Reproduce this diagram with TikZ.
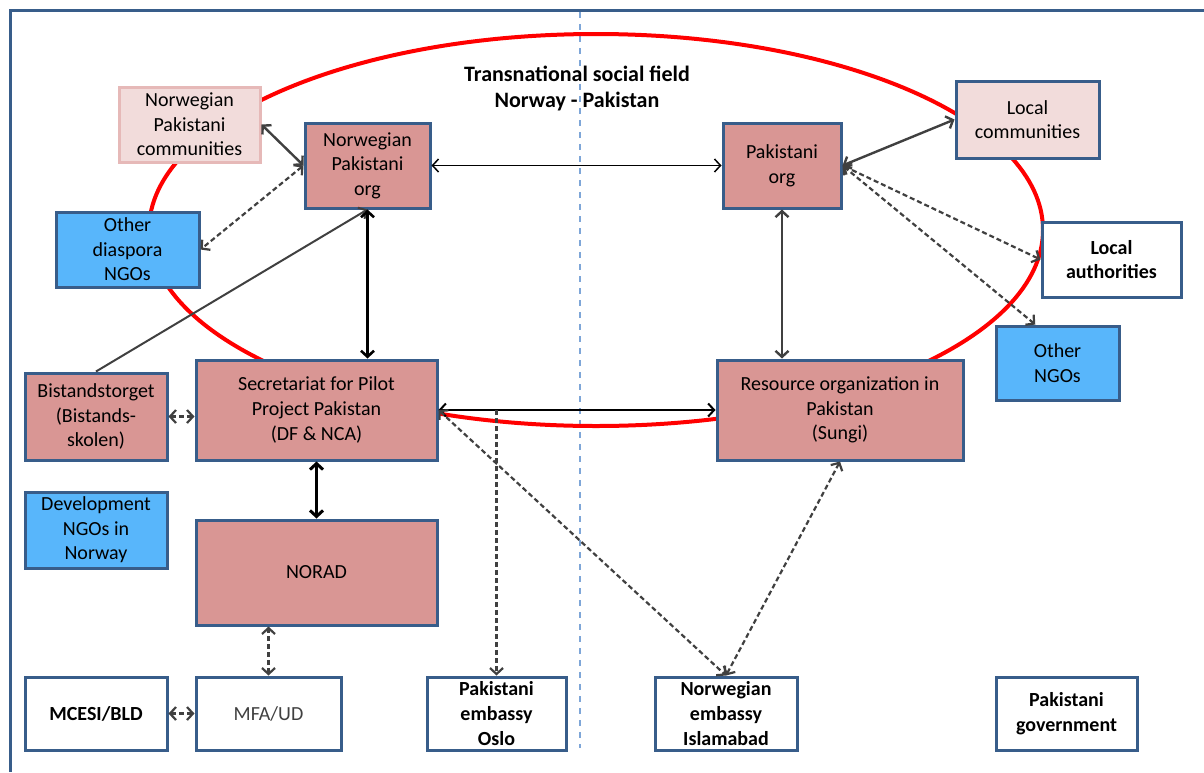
\documentclass[tikz,border=0pt]{standalone}
\usepackage{fontspec}
\setmainfont{Carlito}
\usetikzlibrary{arrows.meta}

\definecolor{boxblue}{HTML}{385D8A}
\definecolor{pinkfill}{HTML}{D99694}
\definecolor{palepink}{HTML}{F2DCDB}
\definecolor{palepinkline}{HTML}{E6B9B8}
\definecolor{skyfill}{HTML}{58B6FB}
\definecolor{linkgray}{HTML}{404040}
\definecolor{splitblue}{HTML}{7EA6D8}

\begin{document}
\begin{tikzpicture}[x=0.5pt,y=-0.5pt,
    box/.style={draw=boxblue,line width=1.5pt,align=center,inner sep=1pt,
      font=\fontsize{10}{12.3}\selectfont},
    org/.style={box,fill=pinkfill},
    ngo/.style={box,fill=skyfill},
    local/.style={box,fill=palepink},
    gov/.style={box,fill=white,font=\fontsize{10}{12.3}\selectfont\bfseries},
    tip/.tip={Straight Barb[length=3pt,width=6.5pt]},
    link/.style={tip-tip,line width=1.2pt,draw=linkgray},
    dlink/.style={link,line width=1.1pt,dash pattern=on 2.5pt off 1.5pt}]
  \useasboundingbox (0,0) rectangle (1204,772);

  % frame, border between the two countries, social field
  \draw[boxblue,line width=1.5pt] (1204,10) -- (10,10) -- (10,772);
  \draw[splitblue,line width=1pt,dashed] (580,12) -- (580,748);
  \draw[red,line width=2pt] (596,230) ellipse [x radius=223.5pt, y radius=98pt];

  \node[font=\fontsize{11}{13}\selectfont\bfseries,align=center] (field) at (577,88)
    {Transnational social field\\Norway - Pakistan};

  % Norway side
  \node[box,draw=palepinkline,fill=palepink,minimum width=70.5pt,minimum height=37.5pt]
    (npcomm) at (189.5,124.5) {Norwegian\\Pakistani\\communities};
  \node[org,minimum width=62.5pt,minimum height=42.5pt] (nporg) at (367.5,165.5)
    {Norwegian\\Pakistani\\org};
  \node[ngo,minimum width=71.5pt,minimum height=37.5pt] (diaspora) at (127.5,249.5)
    {Other\\diaspora\\NGOs};
  \node[org,minimum width=71pt,minimum height=43.5pt] (bistand) at (96,416.5)
    {Bistandstorget\\(Bistands-\\skolen)};
  \node[org,minimum width=120.5pt,minimum height=50pt] (secretariat) at (316.5,410)
    {Secretariat for Pilot\\Project Pakistan\\(DF \& NCA)};
  \node[ngo,minimum width=71pt,minimum height=38pt] (devngo) at (96,530)
    {Development\\NGOs in\\Norway};
  \node[org,minimum width=120.5pt,minimum height=52.5pt] (norad) at (316.5,572.5) {NORAD};
  \node[gov,minimum width=71pt,minimum height=36.5pt] (mcesi) at (96,713.5) {MCESI/BLD};
  \node[box,fill=white,text=linkgray,minimum width=72.5pt,minimum height=36.5pt]
    (mfa) at (268.5,713.5) {MFA/UD};
  \node[gov,minimum width=69.5pt,minimum height=36.5pt] (pkemb) at (496.5,713.5)
    {Pakistani\\embassy\\Oslo};

  % Pakistan side
  \node[org,minimum width=59pt,minimum height=42.5pt] (pkorg) at (782,165.5)
    {Pakistani\\org};
  \node[local,minimum width=71.5pt,minimum height=38.5pt] (localcomm) at (1027.5,119.5)
    {Local\\communities};
  \node[gov,minimum width=69.5pt,minimum height=37.5pt] (localauth) at (1111.5,259.5)
    {Local\\authorities};
  \node[ngo,minimum width=61.5pt,minimum height=37pt] (otherngo) at (1057.5,363)
    {Other\\NGOs};
  \node[org,minimum width=123pt,minimum height=50pt] (resource) at (840,410)
    {Resource organization in\\Pakistan\\(Sungi)};
  \node[gov,minimum width=71pt,minimum height=36.5pt] (noemb) at (726,713.5)
    {Norwegian\\embassy\\Islamabad};
  \node[gov,minimum width=70.5pt,minimum height=36.5pt] (pkgov) at (1066.5,713.5)
    {Pakistani\\government};

  \coordinate (split) at (pkemb.north |- secretariat.east);

  \draw[link,draw=black,line width=0.75pt] (nporg.east) -- (pkorg.west);
  \draw[link,draw=black,line width=1pt] (secretariat.east) -- (resource.west);
  \draw[link] (npcomm.east) -- (nporg.west);
  \draw[dlink] (nporg.west) -- (diaspora.east);
  \draw[-tip,line width=1pt,draw=linkgray] (bistand.north) -- (nporg.south);
  \draw[link,draw=black,line width=1.3pt] (nporg.south) -- (nporg.south |- secretariat.north);
  \draw[link] (pkorg.east) -- (localcomm.west);
  \draw[dlink] (pkorg.east) -- (localauth.west);
  \draw[dlink] (pkorg.east) -- (otherngo.120);
  \draw[link] (pkorg.south) -- (pkorg.south |- resource.north);
  \draw[dlink] (bistand.east) -- (bistand.east -| secretariat.west);
  \draw[link,draw=black,line width=1.5pt] (secretariat.south) -- (norad.north);
  \draw[dlink] (mfa.north) -- (mfa.north |- norad.south);
  \draw[dlink] (mcesi.east) -- (mfa.west);
  \draw[dlink,-tip] (split) -- (pkemb.north);
  \draw[dlink] (secretariat.east) -- (noemb.north);
  \draw[dlink] (resource.south) -- (noemb.north);
\end{tikzpicture}
\end{document}
